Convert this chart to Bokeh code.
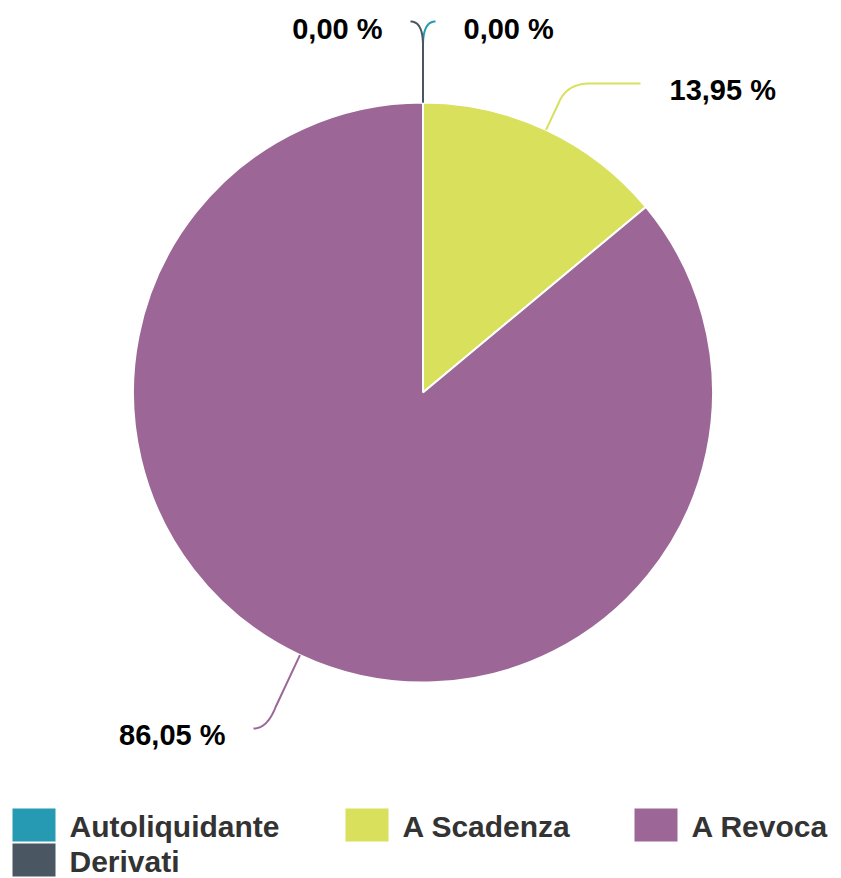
import numpy as np
from bokeh.plotting import figure
from bokeh.models import Range1d, ColumnDataSource
from bokeh.core.properties import value
from bokeh.embed import file_html
from bokeh.resources import INLINE

# ---------------- data ----------------
categories = ["Autoliquidante", "A Scadenza", "A Revoca", "Derivati"]
percentages = [0.00, 13.95, 86.05, 0.00]
colors = ["#2699b3", "#d9e05b", "#9c6797", "#4a5661"]

# ---------------- layout (image pixel coordinates) ----------------
W, H = 841, 878
IMG_H = 878
CX, CY, RAD = 422.5, 392.0, 290.0

conn_layout = {
    "Autoliquidante": dict(d=57, k=0, bend=(435, 21), end=(435, 21), label=(463, 28), align="left"),
    "A Scadenza":     dict(d=30, k=18, bend=(590, 83), end=(640, 83), label=(669, 89), align="left"),
    "A Revoca":       dict(d=57, k=20, bend=(253, 728), end=(253, 728), label=(225, 734), align="right"),
    "Derivati":       dict(d=57, k=0, bend=(410, 21), end=(410, 21), label=(382, 28), align="right"),
}
legend_layout = {
    "Autoliquidante": (12, 808),
    "A Scadenza": (345, 808),
    "A Revoca": (634, 808),
    "Derivati": (12, 843),
}
SW_W, SW_H, TXT_DX = 43, 33, 57
FONT = value("Liberation Sans")


def Y(y):
    return IMG_H - np.asarray(y, dtype=float)


p = figure(width=W, height=H, x_range=Range1d(0, W), y_range=Range1d(IMG_H - H, IMG_H),
           output_backend="svg", toolbar_location=None, min_border=0,
           x_axis_location=None, y_axis_location=None)
p.grid.visible = False
p.outline_line_color = None
p.background_fill_color = "white"
p.border_fill_color = "white"

# ---------------- pie ----------------
vals = np.array(percentages, dtype=float)
frac = vals / vals.sum()
cum_end = np.cumsum(frac)
cum_start = cum_end - frac
theta_a = 2 * np.pi * cum_start   # clockwise from 12 o'clock
theta_b = 2 * np.pi * cum_end
start_ang = np.pi / 2 - theta_b
end_ang = np.pi / 2 - theta_a

mask = frac > 0
wsrc = ColumnDataSource(dict(
    start=list(start_ang[mask]), end=list(end_ang[mask]),
    color=[c for c, m in zip(colors, mask) if m],
))
p.wedge(x=CX, y=float(Y(CY)), radius=RAD, start_angle="start", end_angle="end",
        direction="anticlock", fill_color="color", line_color="white", line_width=2,
        source=wsrc)

# ---------------- connectors and labels ----------------
for i, cat in enumerate(categories):
    L = conn_layout[cat]
    mid = (theta_a[i] + theta_b[i]) / 2
    ux, uy = np.sin(mid), -np.cos(mid)
    ex, ey = CX + RAD * ux, CY + RAD * uy
    rx, ry = CX + (RAD + L["d"]) * ux, CY + (RAD + L["d"]) * uy
    bx, by = L["bend"]
    qx, qy = rx + ux * L["k"], by
    t = np.linspace(0, 1, 30)
    cx_ = (1 - t) ** 2 * rx + 2 * (1 - t) * t * qx + t ** 2 * bx
    cy_ = (1 - t) ** 2 * ry + 2 * (1 - t) * t * qy + t ** 2 * by
    xs = np.concatenate([[ex], cx_, [L["end"][0]]])
    ys = np.concatenate([[ey], cy_, [L["end"][1]]])
    p.line(xs, Y(ys), line_color=colors[i], line_width=2)

for align in ("left", "right"):
    cats = [c for c in categories if conn_layout[c]["align"] == align]
    idx = [categories.index(c) for c in cats]
    src = ColumnDataSource(dict(
        x=[conn_layout[c]["label"][0] for c in cats],
        y=list(Y([conn_layout[c]["label"][1] for c in cats])),
        text=[f"{percentages[j]:.2f}".replace(".", ",") + " %" for j in idx],
    ))
    p.text(x="x", y="y", text="text", source=src, text_align=align, text_baseline="middle",
           text_font=FONT, text_font_style="bold", text_font_size="29px", text_color="#000000")

# ---------------- legend ----------------
lx = [legend_layout[c][0] for c in categories]
ly = [legend_layout[c][1] for c in categories]
p.quad(left=lx, right=[x + SW_W for x in lx], top=list(Y(ly)),
       bottom=list(Y([y + SW_H for y in ly])), fill_color=colors, line_color=None)
p.text(x=[x + TXT_DX for x in lx], y=list(Y([y + SW_H / 2 + 1 for y in ly])), text=categories,
       text_align="left", text_baseline="middle", text_font=FONT, text_font_style="bold",
       text_font_size="30px", text_color="#333333")

open("out.html", "w").write(file_html(p, INLINE))
